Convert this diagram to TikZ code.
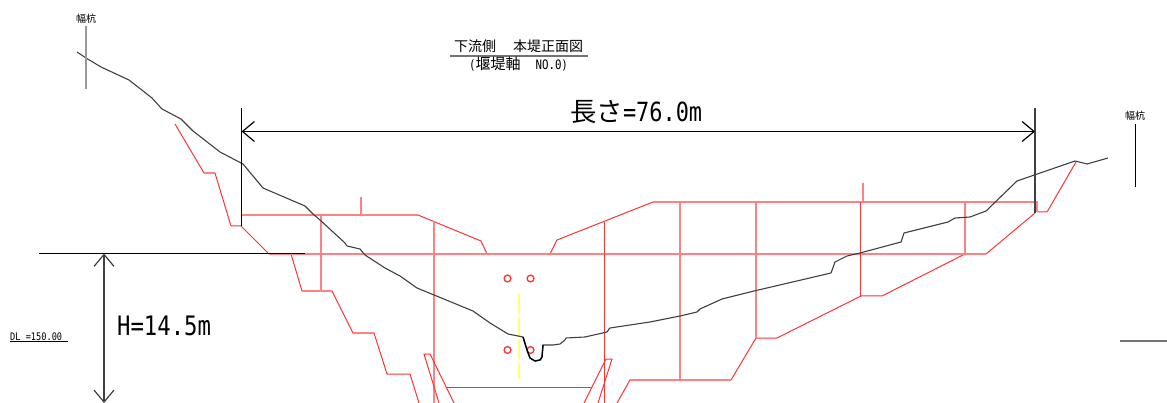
\documentclass[tikz,border=0pt]{standalone}
\usepackage{fontspec}
\usetikzlibrary{arrows.meta}
\setmainfont{Noto Sans CJK JP}
\newfontfamily\hw[FakeStretch=0.83]{DejaVu Sans Mono}
\definecolor{palered}{RGB}{255,130,130}
\definecolor{thinred}{RGB}{255,50,50}
\definecolor{paleyellow}{RGB}{255,255,120}
\newcommand{\fs}[1]{\fontsize{#1}{#1}\selectfont}
\tikzset{
  wall/.style={draw=thinred,line width=1pt,line join=miter},
  wallpale/.style={draw=palered,line width=1.5pt},
  surface/.style={draw=black!75,line width=1.1pt,line join=round},
  notch/.style={draw=black,line width=1.4pt,line join=round},
  blackline/.style={draw=black,line width=1.2pt},
  greyline/.style={draw=black!55,line width=1.5pt},
  stake/.style={draw=black,line width=1pt},
  dimarrow/.style={draw=black,line width=1.2pt,{Straight Barb[length=12pt,width=20pt,line width=1.2pt]}-{Straight Barb[length=12pt,width=20pt,line width=1.2pt]}},
  hole/.style={draw=thinred,line width=1.3pt,fill=none},
  label/.style={inner sep=0pt,text=black},
}
\begin{document}
\begin{tikzpicture}[x=1pt,y=-1pt]
\useasboundingbox (0,0) rectangle (1167,403);
% ---- dam outline: diagonals, thin red
\draw[wall] (175,124) -- (204,173) -- (215,173) -- (231,226) -- (241,226) -- (269,254) -- (986,254) -- (1035,213);
\draw[wall] (418,215) -- (481,241) -- (487,254);
\draw[wall] (550,254) -- (557,240) -- (653,202);
\draw[wall] (1037,212) -- (1047,212) -- (1076,162);
\draw[wall] (291,254) -- (302,291) -- (332,291) -- (353,333) -- (374,333) -- (387,374) -- (410,374) -- (419,403);
\draw[wall] (965,254) -- (882,296) -- (861,296);
\draw[wall] (861,296) -- (777,338) -- (756,338) -- (731,380) -- (630,380) -- (617,403);
% ---- long horizontals and verticals, pale 2 px
\draw[wallpale] (269,254) -- (986,254);
\draw[wallpale] (241,215) -- (418,215);
\draw[wallpale] (653,202) -- (1037,202) -- (1037,212);
\draw[wallpale] (204,173) -- (215,173);
\draw[wallpale] (302,291) -- (332,291);
\draw[wallpale] (353,333) -- (374,333);
\draw[wallpale] (630,380) -- (731,380);
\draw[wallpale] (321,215) -- (321,291);
\draw[wallpale] (361,197) -- (361,215);
\draw[wallpale] (434,221) -- (434,403);
\draw[wallpale] (680,202) -- (680,380);
\draw[wallpale] (756,202) -- (756,338);
\draw[wallpale] (863,183) -- (863,202);
\draw[wallpale] (965,202) -- (965,254);
\draw[wall] (604.5,222) -- (604.5,403);
\draw[wall] (860.5,202) -- (860.5,296);
% gallery and sleeves
\draw[wall] (439,403) -- (424,354) -- (430,354) -- (454,403);
\draw[wall] (584,403) -- (606,359) -- (612,359) -- (598,403);
\draw[wall] (447,387.5) -- (592,387.5);
% yellow axis
\draw[draw=paleyellow,line width=1.5pt,dash pattern=on 20pt off 3pt] (519,294) -- (519,379);
% holes
\foreach \n/\cx/\cy in {a/507.5/278.5,b/530.5/278.5,c/507.5/350,d/530.5/350}
  \draw[hole] (\cx,\cy) circle (3.4pt);
% ---- ground surface
\draw[surface] (77,52) -- (86,58) -- (101,67) -- (129,80) -- (152,98) -- (162,109) -- (181,119) -- (193,131) -- (220,152) -- (243,164) -- (263,188) -- (305,206) -- (313,214) -- (320,220) -- (345,243) -- (347,246) -- (360,249) -- (365,255) -- (385,268) -- (400,276) -- (417,288) -- (473,311) -- (490,323) -- (508,334) -- (518,336) -- (523,337) -- (527,350) -- (530,358) -- (535,361) -- (540,360) -- (542,357) -- (543,345) -- (553,345) -- (560,344) -- (565,340) -- (566,338) -- (585,337) -- (607,332) -- (609,329) -- (610,328) -- (650,322) -- (680,316) -- (697,312) -- (700,309) -- (722,299) -- (754,291) -- (831,273) -- (835,262) -- (847,256) -- (860,253) -- (901,242) -- (904,233) -- (948,222) -- (955,218) -- (970,217) -- (986,211) -- (1017,181) -- (1075,161) -- (1087,164) -- (1108,158);
\draw[notch] (523,337) -- (527,350) -- (530,358) -- (535,361) -- (540,360) -- (542,357) -- (543,345);
% ---- dimension lines
\coordinate (lenL) at (241.5,131.5);
\coordinate (lenR) at (1035,131.5);
\coordinate (hT) at (104,253.5);
\coordinate (hB) at (104,403);
\draw[blackline] (241.5,108) -- (241.5,226);
\draw[greyline,draw=black!75] (1035,108) -- (1035,213);
\draw[dimarrow] (lenL) -- (lenR);
\draw[blackline] (39,253.5) -- (305,253.5);
\draw[dimarrow,draw=black!75,line width=1.5pt] (hT) -- (hB);
% stakes
\draw[greyline,draw=black!40] (86,26) -- (86,89);
\draw[stake] (1135.5,124) -- (1135.5,187);
\draw[greyline] (1120,341) -- (1167,341);
\draw[stake] (10,341.5) -- (67.5,341.5);
\draw[greyline] (450,56) -- (588,56);
% ---- texts
\node[label,anchor=base] (stakeL) at (86,22.5) {\fs{10}幅杭};
\node[label,anchor=base] (stakeR) at (1135,120) {\fs{10}幅杭};
\node[label,anchor=base] (title) at (518.5,52) {\fs{14}下流側\hspace{17pt}本堤正面図};
\node[label,anchor=base] (sub) at (518.5,70) {\fs{15}{\hw\fs{13}(}堰堤軸\hspace{15pt}{\hw\fs{13}NO.0)}};
\node[label,anchor=base west] (len) at (570,122) {\fs{26.4}長さ{\hw =76.0m}};
\node[label,anchor=base west] (hh) at (117,335) {\hw\fs{26.8}H=14.5m};
\node[label,anchor=base west] (dl) at (10,340) {\hw\fs{10.4}DL =150.00};
\end{tikzpicture}
\end{document}
